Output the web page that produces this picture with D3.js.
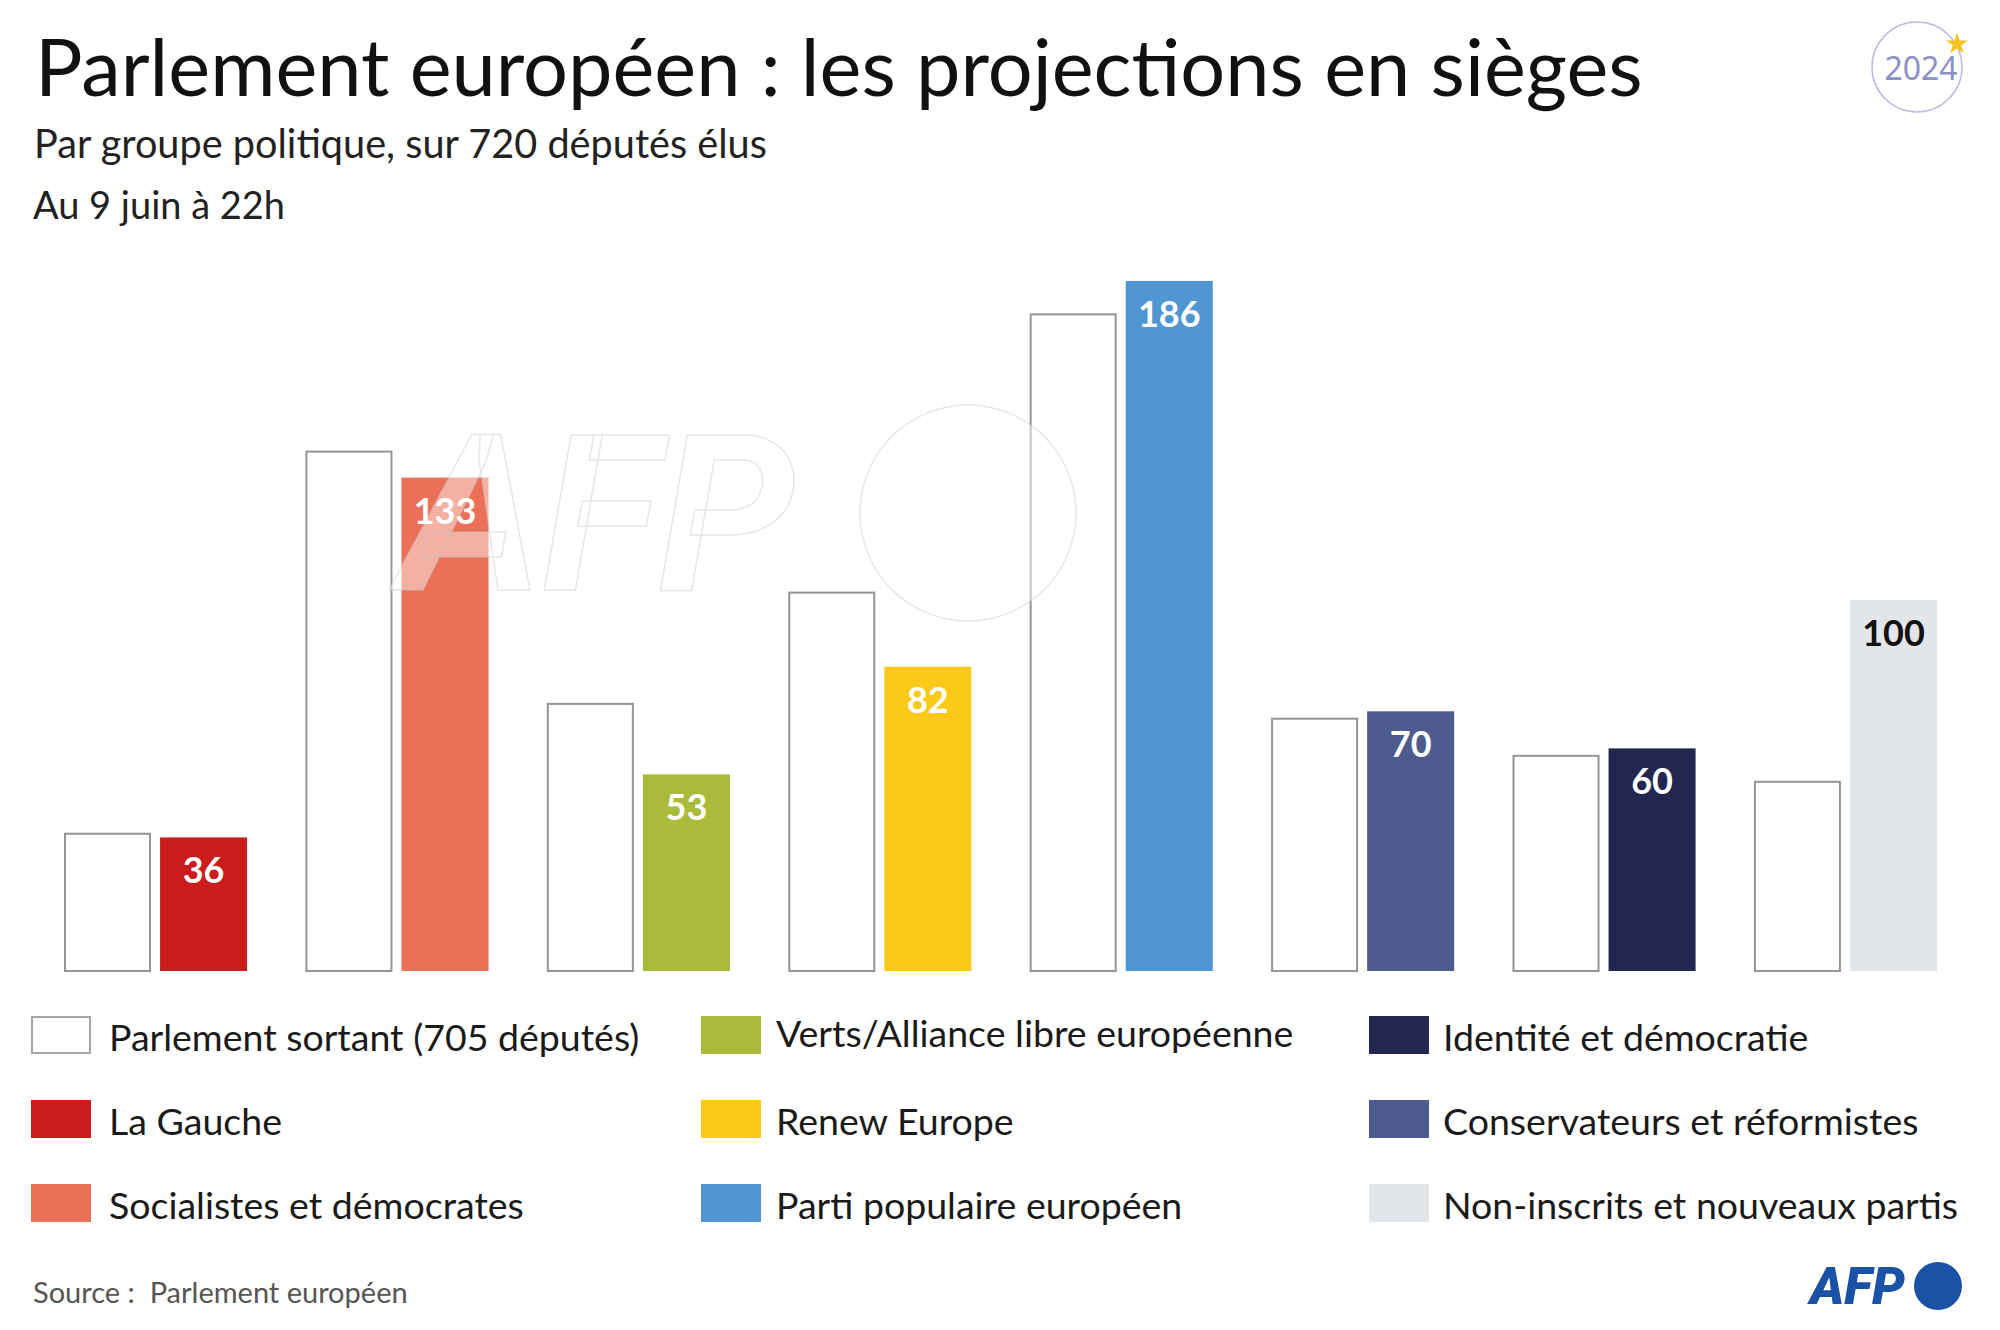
<!DOCTYPE html>
<html>
<head>
<meta charset="utf-8">
<script src="https://cdn.jsdelivr.net/npm/d3@7"></script>
<style>
  body { margin: 0; background: #fff; }
  svg { display: block; }
</style>
</head>
<body>
<div id="chart"></div>
<script>
// groupes politiques (ordre des barres)
const groups = [
    "La Gauche",
    "Socialistes et démocrates",
    "Verts/Alliance libre européenne",
    "Renew Europe",
    "Parti populaire européen",
    "Conservateurs et réformistes",
    "Identité et démocratie",
    "Non-inscrits et nouveaux partis"
];
// sièges du parlement sortant (705 députés)
const sortant = [37, 140, 72, 102, 177, 68, 58, 51];
// projections au 9 juin à 22h (720 députés)
const projection = [36, 133, 53, 82, 186, 70, 60, 100];
const groupColors = ["#c91c1b", "#ec7058", "#aabb3c", "#fcc918", "#4f96d3", "#4e5b8f", "#232650", "#e2e6e8"];

const series = ["sortant", "projection"];

// ordre de la légende, par colonne
const legendLabels = [
    "Parlement sortant (705 députés)", "La Gauche", "Socialistes et démocrates",
    "Verts/Alliance libre européenne", "Renew Europe", "Parti populaire européen",
    "Identité et démocratie", "Conservateurs et réformistes", "Non-inscrits et nouveaux partis"
];

const W = 2000, H = 1330;
const font = "Lato, 'Noto Sans', sans-serif";

const svg = d3.select("#chart")
    .append("svg")
    .attr("width", W)
    .attr("height", H)
    .style("font-family", font);

// fit text to a measured width
function fitWidth(sel, target) {
    const node = sel.node();
    const fs = parseFloat(sel.attr("font-size"));
    const w = node.getComputedTextLength();
    sel.attr("font-size", (fs * target / w).toFixed(2));
    return sel;
}

// titres
fitWidth(svg.append("text")
    .attr("x", 35).attr("y", 96)
    .attr("font-size", 80)
    .attr("fill", "#111")
    .text("Parlement européen : les projections en sièges"), 1608);

fitWidth(svg.append("text")
    .attr("x", 34).attr("y", 158)
    .attr("font-size", 38)
    .attr("fill", "#222")
    .text("Par groupe politique, sur 720 députés élus"), 733);

fitWidth(svg.append("text")
    .attr("x", 33).attr("y", 219)
    .attr("font-size", 38)
    .attr("fill", "#222")
    .text("Au 9 juin à 22h"), 252);

// badge 2024
const badge = svg.append("g");
badge.append("circle")
    .attr("cx", 1917).attr("cy", 67).attr("r", 45)
    .attr("fill", "none")
    .attr("stroke", "#b9bce0")
    .attr("stroke-width", 1.5);
badge.append("text")
    .attr("x", 1921).attr("y", 80)
    .attr("text-anchor", "middle")
    .attr("font-family", "'Noto Sans', sans-serif")
    .attr("font-size", 32)
    .attr("fill", "#8b90c6")
    .text("2024");
badge.append("path")
    .attr("d", d3.symbol(d3.symbolStar, 150)())
    .attr("transform", "translate(1957,44)")
    .attr("fill", "#f6c21c");

// échelles
const x0 = d3.scaleBand()
    .domain(groups)
    .range([64, 1937])
    .paddingInner(0.2416)
    .paddingOuter(0);

const x1 = d3.scaleBand()
    .domain(series)
    .range([0, x0.bandwidth()])
    .paddingInner(0.094);

const y = d3.scaleLinear()
    .domain([0, 200])
    .range([971, 971 - 742]);

const data = groups.map((g, i) => ({
    group: g,
    sortant: sortant[i],
    projection: projection[i],
    color: groupColors[i]
}));

const chart = svg.append("g");

const grp = chart.selectAll(".grp")
    .data(data)
    .enter()
    .append("g")
    .attr("class", "grp")
    .attr("transform", d => `translate(${x0(d.group)},0)`);

grp.append("rect")
    .attr("x", x1("sortant") + 1)
    .attr("y", d => y(d.sortant))
    .attr("width", x1.bandwidth() - 2)
    .attr("height", d => y(0) - y(d.sortant))
    .attr("fill", "#fff")
    .attr("stroke", "#959595")
    .attr("stroke-width", 2);

grp.append("rect")
    .attr("x", x1("projection"))
    .attr("y", d => y(d.projection))
    .attr("width", x1.bandwidth())
    .attr("height", d => y(0) - y(d.projection))
    .attr("fill", d => d.color);

// filigrane AFP (sous les étiquettes)
const wm = svg.append("g").attr("pointer-events", "none");
wm.append("text")
    .attr("x", 400).attr("y", 590)
    .attr("font-family", "Roboto, sans-serif")
    .attr("font-size", 218)
    .attr("font-weight", "bold")
    .attr("font-style", "italic")
    .attr("fill", "#fff")
    .attr("fill-opacity", 0.45)
    .attr("stroke", "#c4c4c4")
    .attr("stroke-opacity", 0.4)
    .attr("stroke-width", 1.5)
    .text("AFP");
wm.append("circle")
    .attr("cx", 968).attr("cy", 513).attr("r", 108)
    .attr("fill", "#fff")
    .attr("fill-opacity", 0.45)
    .attr("stroke", "#c4c4c4")
    .attr("stroke-opacity", 0.4)
    .attr("stroke-width", 1.5);

svg.append("g").selectAll("text")
    .data(data)
    .enter()
    .append("text")
    .attr("x", d => x0(d.group) + x1("projection") + x1.bandwidth() / 2)
    .attr("y", d => y(d.projection) + 46)
    .attr("text-anchor", "middle")
    .attr("font-size", 36)
    .attr("font-weight", "bold")
    .attr("fill", (d, i) => i === groups.length - 1 ? "#111" : "#fff")
    .text(d => d.projection);

// légende
const legendColors = ["#fff", groupColors[0], groupColors[1], groupColors[2], groupColors[3], groupColors[4], groupColors[6], groupColors[5], groupColors[7]];
const colX = [31, 701, 1369];
const textX = [109, 776, 1443];

const legend = svg.append("g");
legendLabels.forEach((label, i) => {
    const col = Math.floor(i / 3), row = i % 3;
    const top = 1016 + row * 84;
    legend.append("rect")
        .attr("x", colX[col] + (i === 0 ? 1 : 0))
        .attr("y", top + (i === 0 ? 1 : 0))
        .attr("width", i === 0 ? 58 : 60)
        .attr("height", i === 0 ? 36 : 38)
        .attr("fill", legendColors[i])
        .attr("stroke", i === 0 ? "#a5a5a5" : "none")
        .attr("stroke-width", 2);
    legend.append("text")
        .attr("x", textX[col])
        .attr("y", top + 35 - (i === 3 ? 4 : 0))
        .attr("font-size", 37.5)
        .attr("fill", "#1a1a1a")
        .text(label);
});

// source
svg.append("text")
    .attr("x", 33).attr("y", 1303)
    .attr("font-size", 29)
    .attr("fill", "#555")
    .text("Source :\u00a0 Parlement européen");

// logo AFP
svg.append("text")
    .attr("x", 1810).attr("y", 1304)
    .attr("font-family", "Roboto, sans-serif")
    .attr("font-size", 52)
    .attr("font-weight", "900")
    .attr("font-style", "italic")
    .attr("fill", "#1a53a6")
    .text("AFP");
svg.append("circle")
    .attr("cx", 1938).attr("cy", 1286).attr("r", 24)
    .attr("fill", "#1a53a6");
</script>
</body>
</html>
